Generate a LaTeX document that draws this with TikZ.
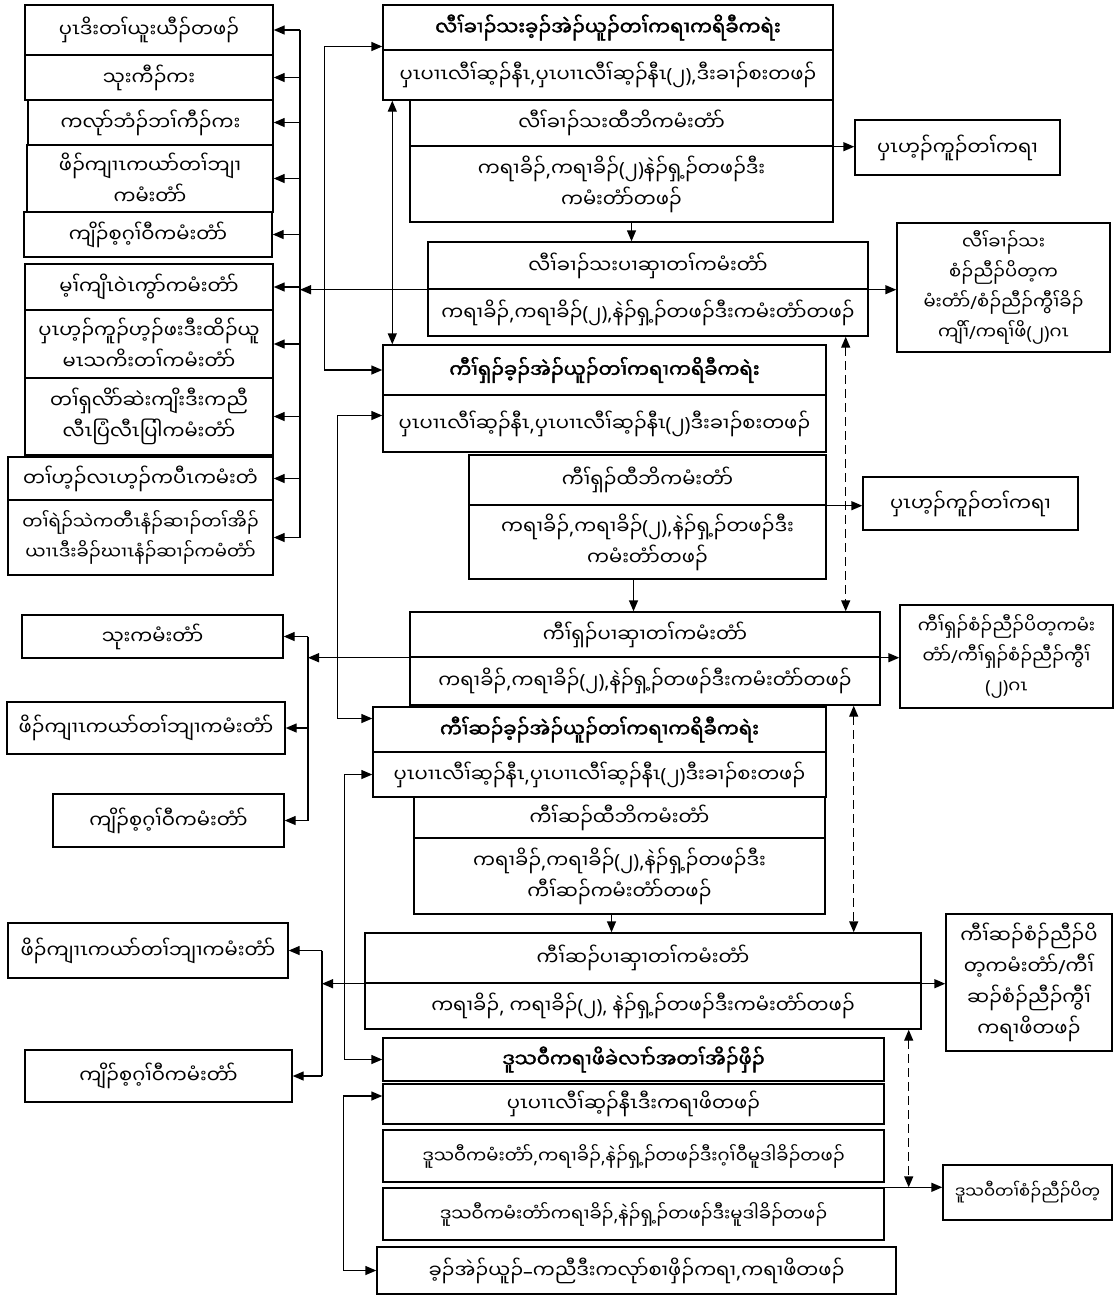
\documentclass[tikz,border=0pt]{standalone}
\usepackage{fontspec}
\setmainfont{Noto Sans Myanmar UI}[Script=Myanmar,AutoFakeBold=2]
\newfontfamily\punc{Noto Sans}
\newcommand{\lpn}{{\punc(}}
\newcommand{\rpn}{{\punc)}}
\newcommand{\cma}{{\punc,}}
\newcommand{\slh}{{\punc/}}
\newcommand{\ndh}{{\punc–}}
\usetikzlibrary{arrows.meta}
\tikzset{
  cell/.style={draw,line width=1.4pt,align=center,inner sep=2pt,
    font=\fontsize{19.5}{31}\selectfont},
  small/.style={font=\fontsize{18}{30}\selectfont},
  head/.style={cell,font=\fontsize{19.5}{31}\selectfont\bfseries},
  arr/.style={line width=1.4pt,-{Triangle[length=11pt,width=9pt]}},
  dbl/.style={line width=1.4pt,{Triangle[length=11pt,width=9pt]}-{Triangle[length=11pt,width=9pt]}},
  dsh/.style={dbl,dash pattern=on 9pt off 5pt}
}

\begin{document}
\begin{tikzpicture}[x=1pt,y=-1pt]
    \useasboundingbox (0,0) rectangle (1116,1296);

    % left column, upper group
    \node[cell,minimum width=248pt,minimum height=50pt] (l1) at (149,30) {ပှၤဒိးတၢ်ယူးယီၣ်တဖၣ်};
    \node[cell,minimum width=248pt,minimum height=45pt] (l2) at (149,77.5) {သုးကီၣ်ကး};
    \node[cell,minimum width=245pt,minimum height=45pt] (l3) at (150.5,122.5) {ကလုာ်ဘံၣ်ဘၢ်ကီၣ်ကး};
    \node[cell,minimum width=246pt,minimum height=67pt] (l4) at (150,178.5) {ဖိၣ်ကျၢၤကယာ်တၢ်ဘျၢ\\ကမံးတံာ်};
    \node[cell,minimum width=248pt,minimum height=45pt] (l5) at (148,234.5) {ကျိၣ်စ့ဂ့ၢ်ဝီကမံးတံာ်};
    \node[cell,minimum width=248pt,minimum height=46pt] (l6) at (149,287) {မ့ၢ်ကျိၤဝဲၤကွာ်ကမံးတံာ်};
    \node[cell,minimum width=248pt,minimum height=68pt] (l7) at (149,344) {ပှၤဟ့ၣ်ကူၣ်ဟ့ၣ်ဖးဒီးထိၣ်ယူ\\မၤသကိးတၢ်ကမံးတံာ်};
    \node[cell,minimum width=248pt,minimum height=77pt] (l8) at (149,416.5) {တၢ်ရှလိာ်ဆဲးကျိးဒီးကညီ\\လီၤပြံလီၤပြါကမံးတံာ်};
    \node[cell,minimum width=265pt,minimum height=43pt] (l9) at (140.5,478.5) {တၢ်ဟ့ၣ်လၤဟ့ၣ်ကပီၤကမံးတံ};
    \node[cell,small,minimum width=265pt,minimum height=75pt] (l10) at (140.5,537.5) {တၢ်ရဲၣ်သဲကတီၤနံၣ်ဆၢၣ်တၢ်အိၣ်\\ယၢၤဒီးခိၣ်ဃၢၤနံၣ်ဆၢၣ်ကမံတံာ်};

    % left column, lower groups
    \node[cell,minimum width=261pt,minimum height=43pt] (l11) at (152.5,636.5) {သုးကမံးတံာ်};
    \node[cell,minimum width=278pt,minimum height=52pt] (l12) at (146,728) {ဖိၣ်ကျၢၤကယာ်တၢ်ဘျၢကမံးတံာ်};
    \node[cell,minimum width=231pt,minimum height=53pt] (l13) at (168.5,820.5) {ကျိၣ်စ့ဂ့ၢ်ဝီကမံးတံာ်};
    \node[cell,minimum width=280pt,minimum height=55pt] (l14) at (148,950.5) {ဖိၣ်ကျၢၤကယာ်တၢ်ဘျၢကမံးတံာ်};
    \node[cell,minimum width=267pt,minimum height=52pt] (l15) at (158.5,1076) {ကျိၣ်စ့ဂ့ၢ်ဝီကမံးတံာ်};

    % state level
    \node[head,minimum width=450pt,minimum height=45pt] (aH) at (608,27.5) {လီၢ်ခၢၣ်သးခ့ၣ်အဲၣ်ယူၣ်တၢ်ကရၢကရိခီကရဲး};
    \node[cell,minimum width=450pt,minimum height=50pt] (aR) at (608,75) {ပှၤပၢၤလီၢ်ဆ့ၣ်နီၤ\cma ပှၤပၢၤလီၢ်ဆ့ၣ်နီၤ\lpn ၂\rpn\cma ဒီးခၢၣ်စးတဖၣ်};
    \node[cell,minimum width=423pt,minimum height=46pt] (bH) at (621.5,123) {လီၢ်ခၢၣ်သးထီဘိကမံးတံာ်};
    \node[cell,minimum width=423pt,minimum height=76pt] (bR) at (621.5,184) {ကရၢခိၣ်\cma ကရၢခိၣ်\lpn ၂\rpn နဲၣ်ရှ့ၣ်တဖၣ်ဒီး\\ကမံးတံာ်တဖၣ်};
    \node[cell,minimum width=440pt,minimum height=47pt] (cH) at (648,265.5) {လီၢ်ခၢၣ်သးပၢဆှၢတၢ်ကမံးတံာ်};
    \node[cell,minimum width=440pt,minimum height=47pt] (cR) at (648,312.5) {ကရၢခိၣ်\cma ကရၢခိၣ်\lpn ၂\rpn\cma နဲၣ်ရှ့ၣ်တဖၣ်ဒီးကမံးတံာ်တဖၣ်};

    % district level
    \node[head,minimum width=443pt,minimum height=50pt] (dH) at (604.5,370) {ကီၢ်ရှၣ်ခ့ၣ်အဲၣ်ယူၣ်တၢ်ကရၢကရိခီကရဲး};
    \node[cell,minimum width=443pt,minimum height=57pt] (dR) at (604.5,423.5) {ပှၤပၢၤလီၢ်ဆ့ၣ်နီၤ\cma ပှၤပၢၤလီၢ်ဆ့ၣ်နီၤ\lpn ၂\rpn ဒီးခၢၣ်စးတဖၣ်};
    \node[cell,minimum width=357pt,minimum height=50pt] (eH) at (647.5,480) {ကီၢ်ရှၣ်ထီဘိကမံးတံာ်};
    \node[cell,minimum width=357pt,minimum height=74pt] (eR) at (647.5,542) {ကရၢခိၣ်\cma ကရၢခိၣ်\lpn ၂\rpn\cma နဲၣ်ရှ့ၣ်တဖၣ်ဒီး\\ကမံးတံာ်တဖၣ်};
    \node[cell,minimum width=470pt,minimum height=45pt] (fH) at (645,634.5) {ကီၢ်ရှၣ်ပၢဆှၢတၢ်ကမံးတံာ်};
    \node[cell,minimum width=470pt,minimum height=48pt] (fR) at (645,681) {ကရၢခိၣ်\cma ကရၢခိၣ်\lpn ၂\rpn\cma နဲၣ်ရှ့ၣ်တဖၣ်ဒီးကမံးတံာ်တဖၣ်};

    % township level
    \node[head,minimum width=453pt,minimum height=45pt] (gH) at (599.5,729.5) {ကီၢ်ဆၣ်ခ့ၣ်အဲၣ်ယူၣ်တၢ်ကရၢကရိခီကရဲး};
    \node[cell,minimum width=453pt,minimum height=45pt] (gR) at (599.5,774.5) {ပှၤပၢၤလီၢ်ဆ့ၣ်နီၤ\cma ပှၤပၢၤလီၢ်ဆ့ၣ်နီၤ\lpn ၂\rpn ဒီးခၢၣ်စးတဖၣ်};
    \node[cell,minimum width=411pt,minimum height=41pt] (hH) at (619.5,817.5) {ကီၢ်ဆၣ်ထီဘိကမံးတံာ်};
    \node[cell,minimum width=411pt,minimum height=76pt] (hR) at (619.5,876) {ကရၢခိၣ်\cma ကရၢခိၣ်\lpn ၂\rpn\cma နဲၣ်ရှ့ၣ်တဖၣ်ဒီး\\ကီၢ်ဆၣ်ကမံးတံာ်တဖၣ်};
    \node[cell,minimum width=556pt,minimum height=50pt] (iH) at (643,958) {ကီၢ်ဆၣ်ပၢဆှၢတၢ်ကမံးတံာ်};
    \node[cell,minimum width=556pt,minimum height=46pt] (iR) at (643,1006) {ကရၢခိၣ်\cma{} ကရၢခိၣ်\lpn ၂\rpn\cma{} နဲၣ်ရှ့ၣ်တဖၣ်ဒီးကမံးတံာ်တဖၣ်};

    % village tract level
    \node[head,minimum width=501pt,minimum height=43pt] (j1) at (633.5,1059.5) {ဒူသဝီကရၢဖိခဲလၢာ်အတၢ်အိၣ်ဖှိၣ်};
    \node[cell,minimum width=501pt,minimum height=40pt] (j2) at (633.5,1104) {ပှၤပၢၤလီၢ်ဆ့ၣ်နီၤဒီးကရၢဖိတဖၣ်};
    \node[cell,small,minimum width=501pt,minimum height=52pt] (j3) at (633.5,1156) {ဒူသဝီကမံးတံာ်\cma ကရၢခိၣ်\cma နဲၣ်ရှ့ၣ်တဖၣ်ဒီးဂ့ၢ်ဝီမူဒါခိၣ်တဖၣ်};
    \node[cell,small,minimum width=501pt,minimum height=52pt] (j4) at (633.5,1214) {ဒူသဝီကမံးတံာ်ကရၢခိၣ်\cma နဲၣ်ရှ့ၣ်တဖၣ်ဒီးမူဒါခိၣ်တဖၣ်};
    \node[cell,minimum width=519pt,minimum height=47pt] (j5) at (636.5,1270.5) {ခ့ၣ်အဲၣ်ယူၣ်\ndh ကညီဒီးကလုာ်စၢဖှိၣ်ကရၢ\cma ကရၢဖိတဖၣ်};

    % right column
    \node[cell,minimum width=205pt,minimum height=55pt] (r1) at (957.5,147.5) {ပှၤဟ့ၣ်ကူၣ်တၢ်ကရၢ};
    \node[cell,small,minimum width=213pt,minimum height=129pt] (r2) at (1003.5,287.5) {လီၢ်ခၢၣ်သး\\စံၣ်ညီၣ်ပိတ့က\\မံးတံာ်\slh စံၣ်ညီၣ်ကွီၢ်ခိၣ်\\ကျိၢ်\slh ကရၢ်ဖိ\lpn ၂\rpn ဂၤ};
    \node[cell,minimum width=215pt,minimum height=53pt] (r1b) at (970.5,503.5) {ပှၤဟ့ၣ်ကူၣ်တၢ်ကရၢ};
    \node[cell,small,minimum width=213pt,minimum height=103pt] (r3) at (1006.5,656.5) {ကီၢ်ရှၣ်စံၣ်ညီၣ်ပိတ့ကမံး\\တံာ်\slh ကီၢ်ရှၣ်စံၣ်ညီၣ်ကွီၢ်\\\lpn ၂\rpn ဂၤ};
    \node[cell,minimum width=166pt,minimum height=137pt] (r4) at (1029,982.5) {ကီၢ်ဆၣ်စံၣ်ညီၣ်ပိ\\တ့ကမံးတံာ်\slh ကီၢ်\\ဆၣ်စံၣ်ညီၣ်ကွီၢ်\\ကရၢဖိတဖၣ်};
    \node[cell,font=\fontsize{16.5}{28}\selectfont,minimum width=169pt,minimum height=55pt] (r5) at (1027.5,1192.5) {ဒူသဝီတၢ်စံၣ်ညီၣ်ပိတ့};

    % buses on the left
    \coordinate (b1) at (300,0);
    \coordinate (b2) at (308,0);
    \coordinate (b3) at (322,0);
    \draw[line width=1.4pt] (l1.east -| b1) -- (l10.east -| b1);
    \foreach \n in {l1,l2,l3,l4,l5,l6,l7,l8,l9,l10}
        \draw[arr] (\n.east -| b1) -- (\n.east);
    \draw[line width=1.4pt] (l11.east -| b2) -- (l13.east -| b2);
    \foreach \n in {l11,l12,l13}
        \draw[arr] (\n.east -| b2) -- (\n.east);
    \draw[line width=1.4pt] (l14.east -| b3) -- (l15.east -| b3);
    \foreach \n in {l14,l15}
        \draw[arr] (\n.east -| b3) -- (\n.east);

    % supervisory lines through the boxes
    \draw[arr] (cH.south west) -- (cH.south west -| b1);
    \draw[arr] (cH.south east) -- (cH.south east -| r2.west);
    \draw[arr] (fH.south west) -- (fH.south west -| b2);
    \draw[arr] (fH.south east) -- (fH.south east -| r3.west);
    \draw[arr] (iH.south west) -- (iH.south west -| b3);
    \draw[arr] (iH.south east) -- (iH.south east -| r4.west);

    % links on the left side of the centre column
    \draw[dbl] ([yshift=-19pt]aH.west) -- ++(-58,0) |- (dH.west);
    \draw[dbl] ([yshift=8pt]dR.west) -- ++(-45,0) |- ([yshift=11pt]gH.west);
    \draw[dbl] (gR.west) -- ++(-28,0) |- (j1.west);
    \draw[dbl] ([yshift=8pt]j2.west) -- ++(-39,0) |- (j5.west);
    \draw[dbl] ([xshift=10pt]aR.south west) -- ([xshift=10pt]dH.north west);

    % downward flow
    \draw[arr] ([xshift=10pt]bR.south) -- ([xshift=10pt]bR.south |- cH.north);
    \draw[arr] ([xshift=-14pt]eR.south) -- ([xshift=-14pt]eR.south |- fH.north);
    \draw[arr] ([xshift=-8pt]hR.south) -- ([xshift=-8pt]hR.south |- iH.north);
    \draw[arr] (bH.south east) -- (bH.south east -| r1.west);
    \draw[arr] (eH.south east) -- (eH.south east -| r1b.west);

    % dashed links
    \draw[dsh] ([xshift=-23pt]cR.south east) -- ([xshift=-23pt]cR.south east |- fH.north);
    \draw[dsh] ([xshift=-27pt]fR.south east) -- ([xshift=-27pt]fR.south east |- iH.north);
    \draw[dsh] ([xshift=-13pt]iR.south east) -- ([xshift=-13pt]iR.south east |- j4.north);
    \draw[arr] (j4.north east) -- (j4.north east -| r5.west);
\end{tikzpicture}
\end{document}
